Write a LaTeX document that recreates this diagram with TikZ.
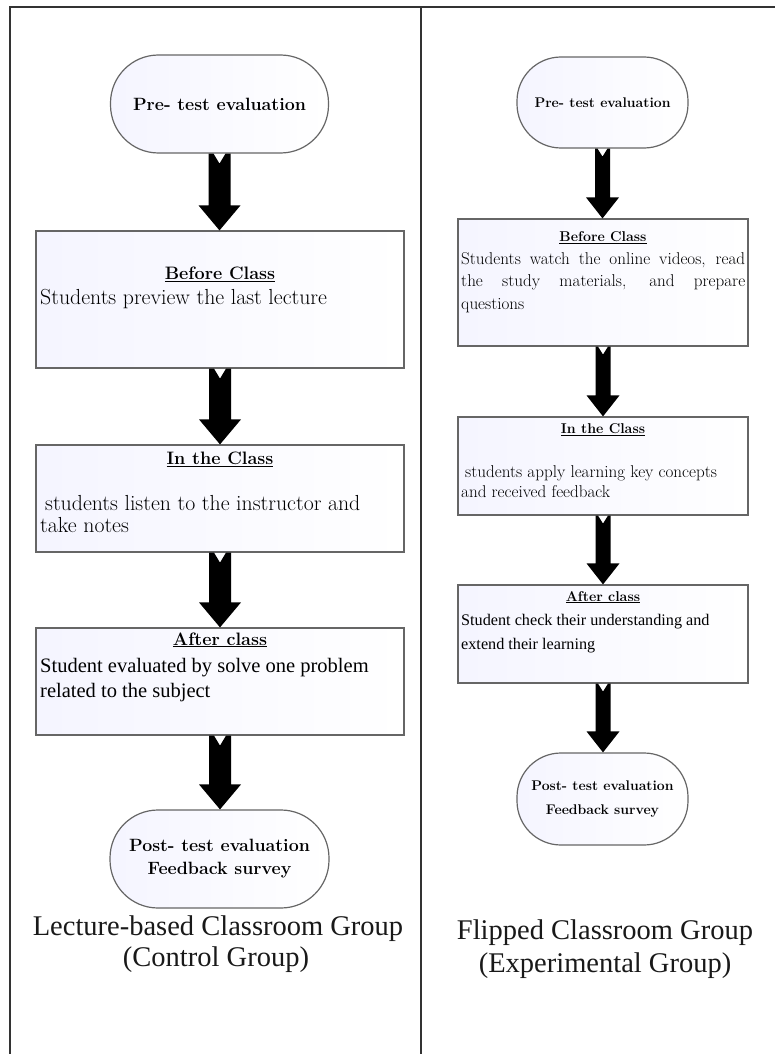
\documentclass[tikz,border=0pt]{standalone}
\usepackage{fontspec}
\newfontfamily\tnr{Liberation Serif}
\usetikzlibrary{calc}
\newcommand{\fatarrow}[7]{%
 \fill[black] let \p1=(#1.south), \p2=(#2.north) in
 (\x1-#3pt,\y1) -- (\x1-#6pt,\y1) -- (\x1,\y1-#7pt) -- (\x1+#6pt,\y1) -- (\x1+#3pt,\y1)
 -- (\x1+#3pt,\y2+#5pt) -- (\x1+#4pt,\y2+#5pt) -- (\x1,\y2) -- (\x1-#4pt,\y2+#5pt)
 -- (\x1-#3pt,\y2+#5pt) -- cycle;}
\tikzset{
 frameline/.style={line width=2pt, black!80},
 boxs/.style={draw=black!60, line width=1.2pt, left color=blue!4!white, right color=white, inner sep=0pt},
 term/.style={boxs, align=center},
 ltitle/.style={font=\bfseries\fontsize{18}{22}\selectfont, anchor=mid, inner sep=0pt},
 lbody/.style={font=\fontsize{21.8}{26}\selectfont, anchor=mid west, inner sep=0pt},
 ltimes/.style={font=\tnr\fontsize{20.5}{24}\selectfont, anchor=mid west, inner sep=0pt},
 rtitle/.style={font=\bfseries\fontsize{14.2}{17}\selectfont, anchor=mid, inner sep=0pt},
 rbody/.style={font=\fontsize{17.1}{20}\selectfont, anchor=mid west, inner sep=0pt},
 rtimes/.style={font=\tnr\fontsize{16.2}{19}\selectfont, anchor=mid west, inner sep=0pt},
 capt/.style={font=\tnr\fontsize{28.5}{34}\selectfont, text=black!90, anchor=mid, inner sep=0pt},
}
\begin{document}
\begin{tikzpicture}[x=1pt,y=-1pt]
\useasboundingbox (0,0) rectangle (775,1054);
\fill[white] (0,0) rectangle (775,1054);
% frame
\draw[frameline] (10,1054) -- (10,7) -- (775,7);
\draw[frameline] (421,7) -- (421,1054);

% ---------- left column ----------
\node[term, rounded corners=48pt, minimum width=218pt, minimum height=98pt,
      font=\bfseries\fontsize{17.8}{22}\selectfont] (pre1) at (219.5,104) {Pre- test evaluation};
\node[boxs, minimum width=368pt, minimum height=137pt] (b1) at (220,299.5) {};
\node[ltitle] (t1) at (220,277) {\underline{Before Class}};
\node[lbody] (s1) at (40,302) {Students preview the last lecture};

\node[boxs, minimum width=368pt, minimum height=107pt] (b2) at (220,498.5) {};
\node[ltitle] (t2) at (220,462) {\underline{In the Class}};
\node[lbody] (s2a) at (45,508) {students listen to the instructor and};
\node[lbody] (s2b) at (40,530) {take notes};

\node[boxs, minimum width=368pt, minimum height=107pt] (b3) at (220,681.5) {};
\node[ltitle] (t3) at (220,643) {\underline{After class}};
\node[ltimes] (s3a) at (40,670) {Student evaluated by solve one problem};
\node[ltimes] (s3b) at (40,695) {related to the subject};

\node[term, rounded corners=48pt, minimum width=219pt, minimum height=98pt,
      font=\bfseries\fontsize{17.8}{23}\selectfont] (post1) at (219.5,859) {Post- test evaluation\\Feedback survey};
\node[capt] (c1a) at (218,933) {Lecture-based Classroom Group};
\node[capt] (c1b) at (216,964) {(Control Group)};

\fatarrow{pre1}{b1}{11}{21}{25}{6}{10}
\fatarrow{b1}{b2}{11}{21}{25}{6}{10}
\fatarrow{b2}{b3}{11}{21}{25}{6}{10}
\fatarrow{b3}{post1}{11}{21}{25}{6}{10}

% ---------- right column ----------
\node[term, rounded corners=44pt, minimum width=171pt, minimum height=91pt,
      font=\bfseries\fontsize{14}{17}\selectfont] (pre2) at (602.5,102.5) {Pre- test evaluation};
\node[boxs, minimum width=290pt, minimum height=127pt] (b4) at (603,282.5) {};
\node[rtitle] (t4) at (603,239) {\underline{Before Class}};
\node[rbody] (s4a) at (461,262) {\makebox[284pt][s]{Students watch the online videos, read}};
\node[rbody] (s4b) at (461,284) {\makebox[284pt][s]{the study materials, and prepare}};
\node[rbody] (s4c) at (461,307) {questions};

\node[boxs, minimum width=290pt, minimum height=98pt] (b5) at (603,466) {};
\node[rtitle] (t5) at (603,431) {\underline{In the Class}};
\node[rbody] (s5a) at (465,475) {students apply learning key concepts};
\node[rbody] (s5b) at (461,495) {and received feedback};

\node[boxs, minimum width=290pt, minimum height=98pt] (b6) at (603,634) {};
\node[rtitle] (t6) at (603,599) {\underline{After class}};
\node[rtimes] (s6a) at (461,623) {Student check their understanding and};
\node[rtimes] (s6b) at (461,647) {extend their learning};

\node[term, rounded corners=44pt, minimum width=171pt, minimum height=92pt,
      font=\bfseries\fontsize{14}{24}\selectfont] (post2) at (602.5,799) {Post- test evaluation\\Feedback survey};
\node[capt] (c2a) at (605,937) {Flipped Classroom Group};
\node[capt] (c2b) at (605,970) {(Experimental Group)};

\fatarrow{pre2}{b4}{7.5}{16.5}{21}{5}{8}
\fatarrow{b4}{b5}{7.5}{16.5}{21}{5}{8}
\fatarrow{b5}{b6}{7.5}{16.5}{21}{5}{8}
\fatarrow{b6}{post2}{7.5}{16.5}{21}{5}{8}
\end{tikzpicture}
\end{document}
